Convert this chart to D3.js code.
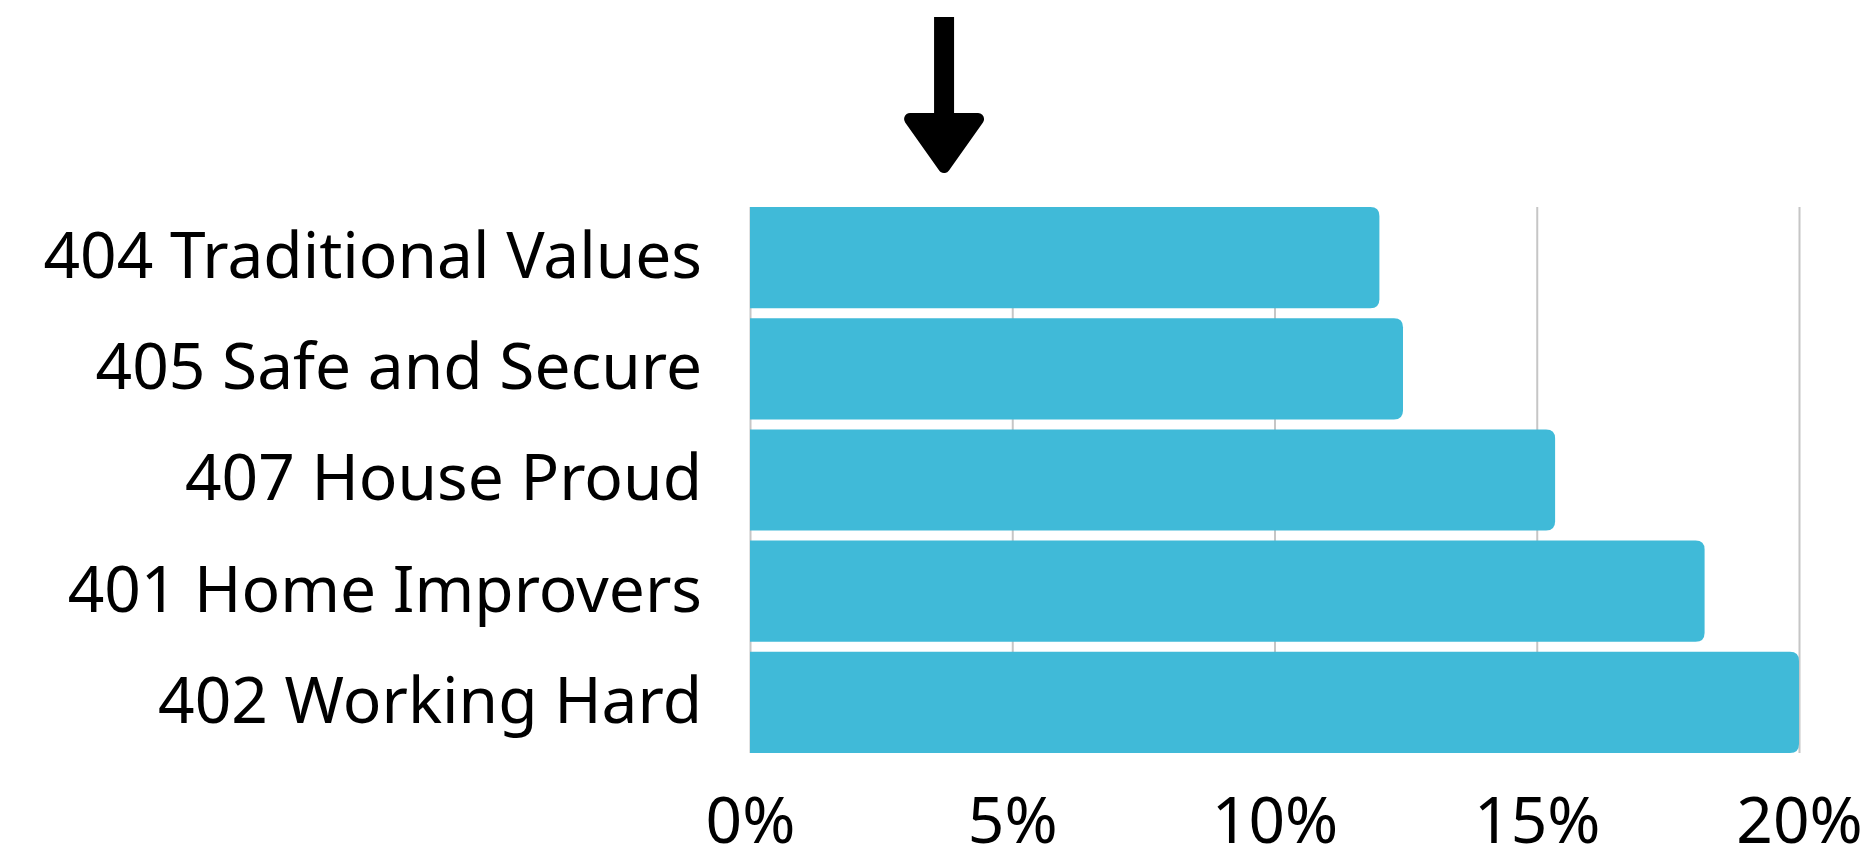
<!DOCTYPE html>
<html>
<head>
<meta charset="utf-8">
<script src="https://cdn.jsdelivr.net/npm/d3@7"></script>
<style>
  body { margin: 0; background: #fff; }
  svg { display: block; }
  .lbl text { font-family: "Noto Sans", sans-serif; font-size: 64px; fill: #000; }
</style>
</head>
<body>
<div id="chart"></div>
<script>
"use strict"
// Segment shares, top to bottom
var segments = ["404 Traditional Values", "405 Safe and Secure", "407 House Proud", "401 Home Improvers", "402 Working Hard"];
var shares = [12.0, 12.45, 15.35, 18.2, 20.0];
var xTicks = [0, 5, 10, 15, 20];
var arrowAt = 3.7; // marker arrow above the chart

var width = 1871, height = 850;
var margin = {top: 207, right: 72, bottom: 97, left: 750};
var barColor = "#40bad8";
var gridColor = "#c6c6c6";

var svg = d3.select("#chart").append("svg")
    .attr("width", width)
    .attr("height", height);

var xScale = d3.scaleLinear().domain([0, 20]).range([margin.left, width - margin.right]);
var yScale = d3.scaleBand().domain(segments)
    .range([margin.top, height - margin.bottom])
    .paddingInner(0.09).paddingOuter(0);

// gridlines
var grid = svg.append("g")
    .attr("class", "grid")
    .attr("transform", "translate(0," + (height - margin.bottom) + ")")
    .call(d3.axisBottom(xScale).tickValues(xTicks).tickSize(-(height - margin.bottom - margin.top)).tickFormat(""));
grid.select(".domain").remove();
grid.selectAll("line").attr("stroke", gridColor).attr("stroke-width", 2);

// bars, rounded on the right end only
function barPath(x0, x1, y0, h, r) {
    return "M" + x0 + "," + y0 +
        "H" + (x1 - r) +
        "Q" + x1 + "," + y0 + " " + x1 + "," + (y0 + r) +
        "V" + (y0 + h - r) +
        "Q" + x1 + "," + (y0 + h) + " " + (x1 - r) + "," + (y0 + h) +
        "H" + x0 + "Z";
}

svg.append("g").selectAll("path")
    .data(segments)
    .enter()
    .append("path")
    .attr("fill", barColor)
    .attr("d", function(d, i) {
        return barPath(xScale(0), xScale(shares[i]), yScale(d), yScale.bandwidth(), 9);
    });

// category labels
var yAxis = svg.append("g")
    .attr("class", "lbl")
    .attr("transform", "translate(" + margin.left + ",0)")
    .call(d3.axisLeft(yScale).tickSize(0).tickPadding(48));
yAxis.select(".domain").remove();
yAxis.selectAll("text").attr("font-family", null).attr("font-size", null);

// percent labels
var xAxis = svg.append("g")
    .attr("class", "lbl")
    .attr("transform", "translate(0," + (height - margin.bottom) + ")")
    .call(d3.axisBottom(xScale).tickValues(xTicks).tickSize(0).tickPadding(45).tickFormat(function(d) { return d + "%" }));
xAxis.select(".domain").remove();
xAxis.selectAll("text").attr("font-family", null).attr("font-size", null);

// arrow marker
var ax = xScale(arrowAt);
var arrow = svg.append("g").attr("fill", "#000");
arrow.append("rect")
    .attr("x", ax - 10).attr("y", 17)
    .attr("width", 20).attr("height", 105);
arrow.append("path")
    .attr("d", "M" + (ax - 34) + "," + 119 + "L" + (ax + 34) + "," + 119 + "L" + ax + "," + 167 + "Z")
    .attr("stroke", "#000")
    .attr("stroke-width", 12)
    .attr("stroke-linejoin", "round");
</script>
</body>
</html>
